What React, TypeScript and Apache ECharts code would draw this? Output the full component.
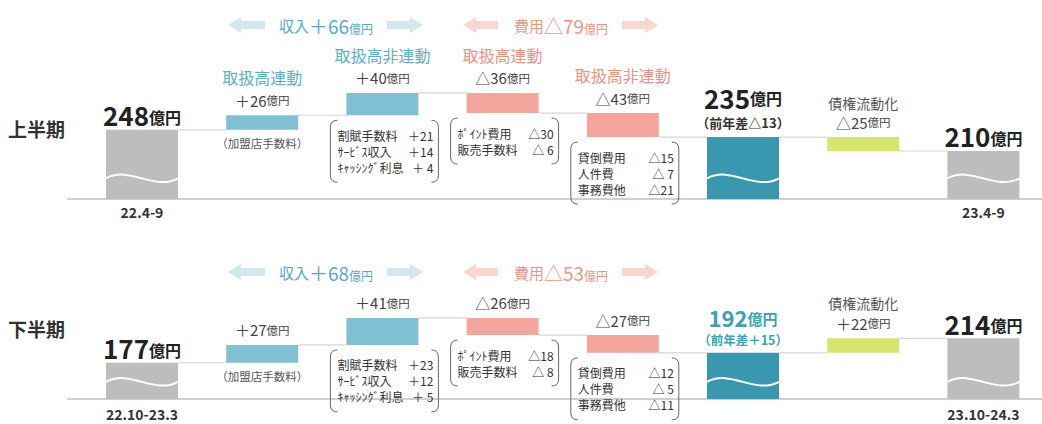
import { useEffect, useRef } from 'react';
import * as echarts from 'echarts';

const FONT = "'Noto Sans CJK JP', 'Noto Sans', sans-serif";

// ---------------- data ----------------
const categories = ['期首', '取扱高連動', '取扱高非連動', '取扱高連動', '取扱高非連動', '営業利益', '債権流動化', '流動化後'];
const barKinds = ['start', 'up', 'up', 'down', 'down', 'result', 'credit', 'end'];

const upperValues = [248, 26, 40, -36, -43, 235, -25, 210];
const lowerValues = [177, 27, 41, -26, -27, 192, 22, 214];

const upperTitles = ['', '取扱高連動', '取扱高非連動', '取扱高連動', '取扱高非連動', '', '債権流動化', ''];
const lowerTitles = ['', '', '', '', '', '', '債権流動化', ''];

const upperYoY = '（前年差△13）';
const lowerYoY = '（前年差＋15）';

const upperPeriods = ['22.4-9', '23.4-9'];
const lowerPeriods = ['22.10-23.3', '23.10-24.3'];
const halfNames = ['上半期', '下半期'];

const upperRevenueTotal = 66;
const upperCostTotal = -79;
const lowerRevenueTotal = 68;
const lowerCostTotal = -53;

const feeCaption = '（加盟店手数料）';
const revenueItems = ['割賦手数料', 'ｻｰﾋﾞｽ収入', 'ｷｬｯｼﾝｸﾞ利息'];
const upperRevenueDetail = [21, 14, 4];
const lowerRevenueDetail = [23, 12, 5];
const costItemsA = ['ﾎﾟｲﾝﾄ費用', '販売手数料'];
const upperCostADetail = [-30, -6];
const lowerCostADetail = [-18, -8];
const costItemsB = ['貸倒費用', '人件費', '事務費他'];
const upperCostBDetail = [-15, -7, -21];
const lowerCostBDetail = [-12, -5, -11];

// ---------------- styling ----------------
const COLORS: Record<string, string> = {
  start: '#bdbdbd',
  end: '#bdbdbd',
  up: '#80c0d2',
  down: '#f4a69c',
  result: '#3a97b0',
  credit: '#d7e46e',
};
const BAR_W = 72;
const X_MIN = -0.6156;
const X_MAX = 7.4875;

const isTotal = (k: string) => k === 'start' || k === 'result' || k === 'end';
const signed = (v: number) => (v >= 0 ? '＋' + v : '△' + -v);
const signedPad = (v: number) => {
  const a = Math.abs(v);
  return (v >= 0 ? '＋' : '△') + (a < 10 ? ' ' + a : String(a));
};

function waterfall(values: number[]) {
  let level = 0;
  const lows: number[] = [];
  const highs: number[] = [];
  const levels: number[] = [];
  values.forEach((v, i) => {
    if (isTotal(barKinds[i])) {
      lows.push(0);
      highs.push(v);
      level = v;
    } else {
      const next = level + v;
      lows.push(Math.min(level, next));
      highs.push(Math.max(level, next));
      level = next;
    }
    levels.push(level);
  });
  return { lows, highs, levels };
}

const panels = [
  {
    values: upperValues,
    titles: upperTitles,
    yoy: upperYoY,
    periods: upperPeriods,
    half: halfNames[0],
    revenue: upperRevenueTotal,
    cost: upperCostTotal,
    details: [
      { caption: feeCaption },
      { names: revenueItems, values: upperRevenueDetail },
      { names: costItemsA, values: upperCostADetail },
      { names: costItemsB, values: upperCostBDetail },
    ],
    yMin: 124,
    yMax: 330,
    top: 84,
    height: 115,
    breakAt: 161,
    resultStyle: 'rk',
    creditLH: 19,
    labelMargin: 6,
    headerY: 25,
    halfY: 128,
  },
  {
    values: lowerValues,
    titles: lowerTitles,
    yoy: lowerYoY,
    periods: lowerPeriods,
    half: halfNames[1],
    revenue: lowerRevenueTotal,
    cost: lowerCostTotal,
    details: [
      { caption: feeCaption },
      { names: revenueItems, values: lowerRevenueDetail },
      { names: costItemsA, values: lowerCostADetail },
      { names: costItemsB, values: lowerCostBDetail },
    ],
    yMin: 122,
    yMax: 260,
    top: 308,
    height: 91,
    breakAt: 148,
    resultStyle: 'rt',
    creditLH: 20,
    labelMargin: 8,
    headerY: 272,
    halfY: 328,
  },
];

function labelFor(p: any, i: number) {
  const v = p.values[i];
  const k = barKinds[i];
  if (k === 'start' || k === 'end') return `{big|${v}}{bigu|億円}`;
  if (k === 'result') {
    const s = p.resultStyle;
    return `{${s}|${v}}{${s}u|億円}\n{${s}y|${p.yoy}}`;
  }
  const title = p.titles[i];
  const ts = k === 'up' ? 'tb' : k === 'down' ? 'tp' : 'tg';
  const t = title ? `{${ts}|${title}}\n` : '';
  return t + `{n|${signed(v)}}{u|億円}`;
}

function richFor(p: any) {
  return {
    tb: { fontSize: 16, fill: '#5cafc6', lineHeight: 26, fontFamily: FONT },
    tp: { fontSize: 16, fill: '#f0917f', lineHeight: 26, fontFamily: FONT },
    tg: { fontSize: 14, fill: '#555555', lineHeight: p.creditLH, fontFamily: FONT },
    n: { fontSize: 15, fill: '#444444', lineHeight: 20, fontFamily: FONT },
    u: { fontSize: 11.5, fill: '#444444', fontFamily: FONT },
    big: { fontSize: 26, fontWeight: 'bold', fill: '#222222', lineHeight: 20, fontFamily: FONT },
    bigu: { fontSize: 16, fontWeight: 'bold', fill: '#222222', verticalAlign: 'bottom', fontFamily: FONT },
    rk: { fontSize: 26, fontWeight: 'bold', fill: '#222222', lineHeight: 30, fontFamily: FONT },
    rku: { fontSize: 16, fontWeight: 'bold', fill: '#222222', verticalAlign: 'bottom', padding: [0, 0, 6, 0], fontFamily: FONT },
    rky: { fontSize: 13, fontWeight: 'bold', fill: '#333333', lineHeight: 20, fontFamily: FONT },
    rt: { fontSize: 22, fontWeight: 'bold', fill: '#3d9fba', lineHeight: 30, fontFamily: FONT },
    rtu: { fontSize: 15, fontWeight: 'bold', fill: '#3d9fba', verticalAlign: 'bottom', padding: [0, 0, 6, 0], fontFamily: FONT },
    rty: { fontSize: 12.5, fontWeight: 'bold', fill: '#3d9fba', lineHeight: 16, fontFamily: FONT },
  };
}

function arrowPoints(x0: number, x1: number, y: number, dir: 'left' | 'right') {
  const hl = 13, hh = 8, sh = 4;
  if (dir === 'left') {
    return [[x0, y], [x0 + hl, y - hh], [x0 + hl, y - sh], [x1, y - sh], [x1, y + sh], [x0 + hl, y + sh], [x0 + hl, y + hh]];
  }
  return [[x1, y], [x1 - hl, y - hh], [x1 - hl, y - sh], [x0, y - sh], [x0, y + sh], [x1 - hl, y + sh], [x1 - hl, y + hh]];
}

function buildOption() {
  const grid: any[] = [];
  const xAxis: any[] = [];
  const yAxis: any[] = [];
  const series: any[] = [];
  const graphic: any[] = [];

  panels.forEach((p, pi) => {
    const wf = waterfall(p.values);
    const rich = richFor(p);
    grid.push({ left: 68, right: 0, top: p.top, height: p.height, containLabel: false });
    xAxis.push({
      type: 'value',
      gridIndex: pi,
      min: X_MIN,
      max: X_MAX,
      axisLine: { show: true, onZero: false, lineStyle: { color: '#d0d0d0', width: 2 } },
      axisTick: { show: false },
      splitLine: { show: false },
      axisLabel: {
        customValues: [0, 7],
        formatter: (v: number) => (v === 0 ? p.periods[0] : v === 7 ? p.periods[1] : ''),
        fontSize: 14,
        fontWeight: 'bold',
        color: '#333',
        margin: p.labelMargin,
        fontFamily: FONT,
      },
    });
    yAxis.push({ type: 'value', gridIndex: pi, min: p.yMin, max: p.yMax, show: false, splitLine: { show: false } });

    // waterfall steps
    series.push({
      type: 'custom',
      name: 'steps' + pi,
      xAxisIndex: pi,
      yAxisIndex: pi,
      silent: true,
      z: 2,
      clip: false,
      data: wf.highs.map((h, i) => ({ name: categories[i], value: [i, wf.lows[i], h] })),
      renderItem: (params: any, api: any) => {
        const i = params.dataIndex;
        const x = api.value(0);
        const lo = Math.max(api.value(1), p.yMin);
        const hi = api.value(2);
        const a = api.coord([x, lo]);
        const b = api.coord([x, hi]);
        return {
          type: 'rect',
          shape: { x: a[0] - BAR_W / 2, y: b[1], width: BAR_W, height: a[1] - b[1] },
          style: { fill: COLORS[barKinds[i]] },
          textContent: {
            type: 'text',
            style: { text: labelFor(p, i), rich, fontFamily: FONT, align: 'center' },
          },
          textConfig: { position: 'top', distance: 5 },
        };
      },
    });

    // connectors between steps
    series.push({
      type: 'custom',
      name: 'connector' + pi,
      xAxisIndex: pi,
      yAxisIndex: pi,
      silent: true,
      z: 1,
      data: wf.levels.slice(0, 7).map((l, i) => [i, l]),
      renderItem: (params: any, api: any) => {
        const x = api.value(0);
        const l = api.value(1);
        const a = api.coord([x, l]);
        const b = api.coord([x + 1, l]);
        return {
          type: 'line',
          shape: { x1: a[0] + BAR_W / 2, y1: a[1], x2: b[0] - BAR_W / 2, y2: b[1] },
          style: { stroke: '#d6d6d6', lineWidth: 1.2 },
        };
      },
    });

    // axis-break waves on total bars
    const totals = barKinds.map((k, i) => (isTotal(k) ? i : -1)).filter((i) => i >= 0);
    series.push({
      type: 'custom',
      name: 'wave' + pi,
      xAxisIndex: pi,
      yAxisIndex: pi,
      silent: true,
      z: 5,
      data: totals.map((i) => [i, p.breakAt]),
      renderItem: (params: any, api: any) => {
        const c = api.coord([api.value(0), api.value(1)]);
        const hw = BAR_W / 2;
        return {
          type: 'bezierCurve',
          shape: {
            x1: c[0] - hw, y1: c[1],
            cpx1: c[0] - hw / 3, cpy1: c[1] - 13,
            cpx2: c[0] + hw / 3, cpy2: c[1] + 13,
            x2: c[0] + hw, y2: c[1],
          },
          style: { stroke: '#ffffff', lineWidth: 2, fill: 'none' },
        };
      },
    });

    // breakdown boxes under the step bars
    series.push({
      type: 'custom',
      name: 'detail' + pi,
      xAxisIndex: pi,
      yAxisIndex: pi,
      silent: true,
      z: 4,
      clip: false,
      data: [1, 2, 3, 4].map((i, k) => [i, wf.lows[i], k]),
      renderItem: (params: any, api: any) => {
        const x = api.value(0);
        const l = api.value(1);
        const k = api.value(2);
        const c = api.coord([x, l]);
        const d: any = p.details[k];
        if (d.caption) {
          return {
            type: 'text',
            x: c[0],
            y: c[1] + 13,
            style: { text: d.caption, fill: '#555', fontSize: 11.5, fontFamily: FONT, align: 'center', verticalAlign: 'middle' },
          };
        }
        const n = d.names.length;
        const w = 108;
        const left = c[0] - w / 2 + 2;
        const right = left + w;
        const top = c[1] + 5;
        const h = 16 * n + 14;
        const r = 7;
        const bot = top + h;
        const pathData =
          `M${left + r},${top} Q${left},${top} ${left},${top + r} L${left},${bot - r} Q${left},${bot} ${left + r},${bot} ` +
          `M${right - r},${top} Q${right},${top} ${right},${top + r} L${right},${bot - r} Q${right},${bot} ${right - r},${bot}`;
        const children: any[] = [
          { type: 'path', shape: { pathData }, style: { fill: 'none', stroke: '#666', lineWidth: 1 } },
        ];
        d.names.forEach((nm: string, j: number) => {
          const y = top + 15 + 16 * j;
          children.push({
            type: 'text',
            x: left + 7,
            y,
            style: { text: nm, fill: '#333', fontSize: 12, fontFamily: FONT, align: 'left', verticalAlign: 'middle' },
          });
          children.push({
            type: 'text',
            x: right - 5,
            y,
            style: { text: signedPad(d.values[j]), fill: '#333', fontSize: 12, fontFamily: FONT, align: 'right', verticalAlign: 'middle' },
          });
        });
        return { type: 'group', children };
      },
    });

    // headers: revenue / cost arrows
    const y = p.headerY;
    const blue = '#d3e7ee';
    const pink = '#f9d6cf';
    const headRich = (col: string) => ({
      a: { fontSize: 15, fill: col, fontFamily: FONT },
      b: { fontSize: 19, fill: col, lineHeight: 19, fontFamily: FONT },
      c: { fontSize: 12, fill: col, fontFamily: FONT, verticalAlign: 'bottom' },
    });
    graphic.push(
      { type: 'polygon', shape: { points: arrowPoints(228, 265, y, 'left') }, style: { fill: blue } },
      { type: 'polygon', shape: { points: arrowPoints(387, 423, y, 'right') }, style: { fill: blue } },
      { type: 'polygon', shape: { points: arrowPoints(463, 498, y, 'left') }, style: { fill: pink } },
      { type: 'polygon', shape: { points: arrowPoints(622, 658, y, 'right') }, style: { fill: pink } },
      {
        type: 'text',
        x: 326,
        y,
        style: {
          text: `{a|収入}{b|${signed(p.revenue)}}{c|億円}`,
          align: 'center',
          verticalAlign: 'middle',
          rich: headRich('#5aa9c1'),
        },
      },
      {
        type: 'text',
        x: 561,
        y,
        style: {
          text: `{a|費用}{b|${signed(p.cost)}}{c|億円}`,
          align: 'center',
          verticalAlign: 'middle',
          rich: headRich('#ef9484'),
        },
      },
      {
        type: 'text',
        x: 8,
        y: p.halfY,
        style: { text: p.half, fill: '#333', fontSize: 19, fontWeight: 'bold', fontFamily: FONT, align: 'left', verticalAlign: 'middle' },
      }
    );
  });

  return {
    animation: false,
    backgroundColor: '#ffffff',
    textStyle: { fontFamily: FONT },
    grid,
    xAxis,
    yAxis,
    series,
    graphic,
  };
}

export default function App() {
  const ref = useRef<HTMLDivElement>(null);
  useEffect(() => {
    if (!ref.current) return;
    const chart = echarts.init(ref.current, null, { renderer: 'svg' });
    chart.setOption(buildOption() as any);
    return () => chart.dispose();
  }, []);
  return (
    <div
      ref={ref}
      style={{ position: 'absolute', left: 0, top: 0, width: 1042, height: 424, background: '#fff' }}
    />
  );
}
